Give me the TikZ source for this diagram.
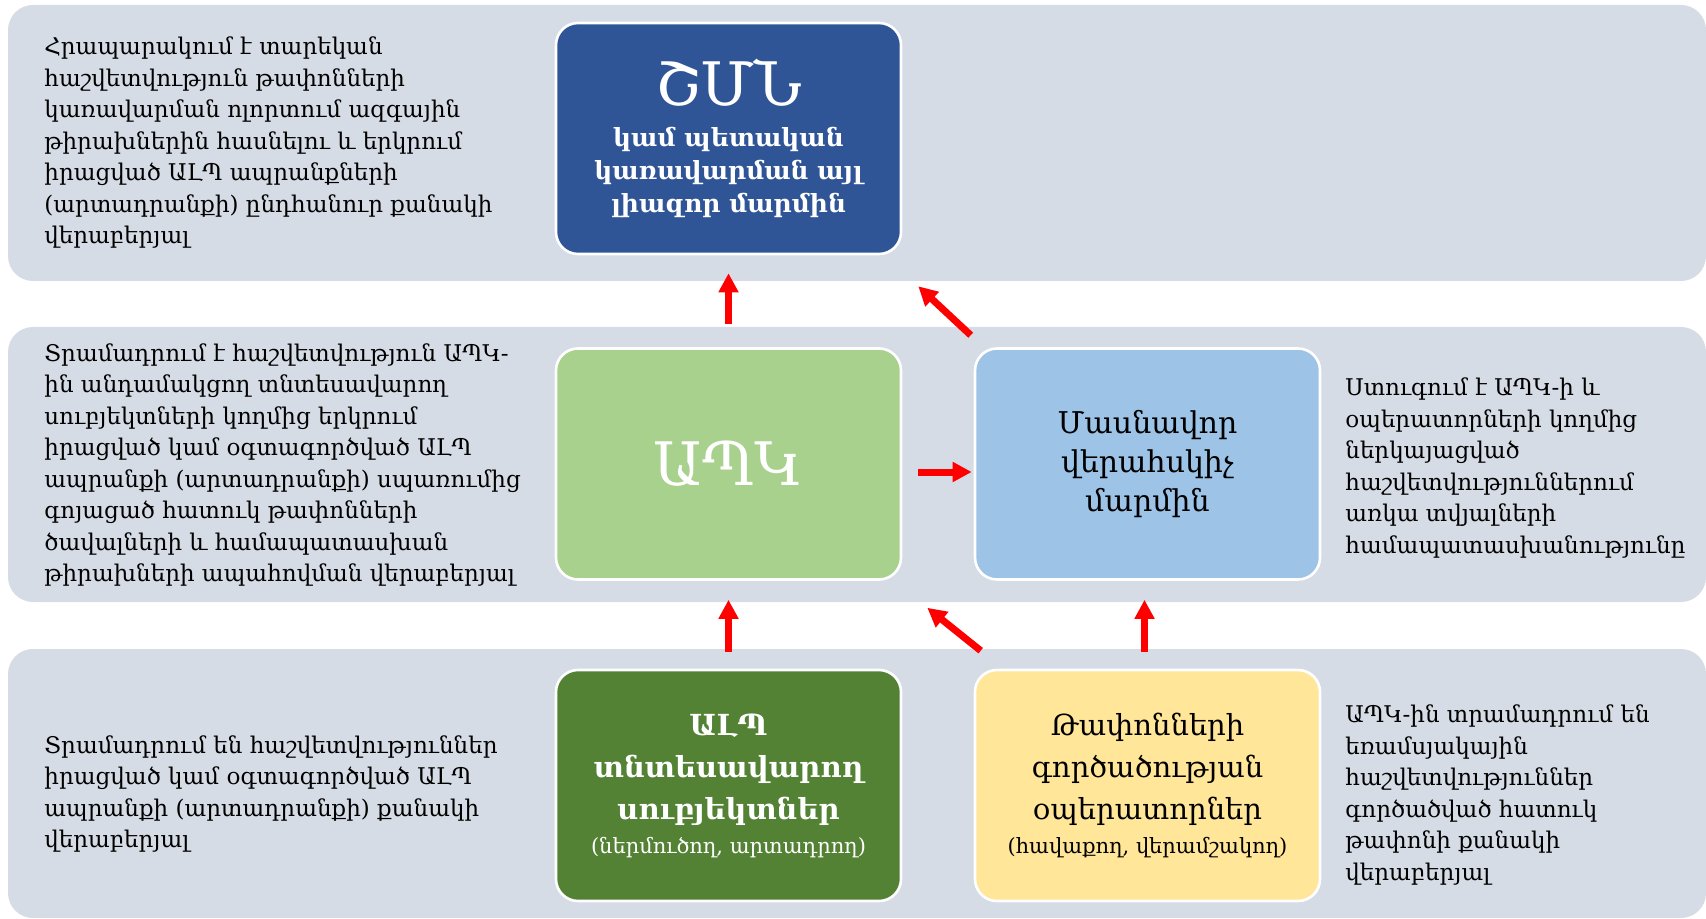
\documentclass[tikz,border=0pt]{standalone}
\usepackage{fontspec}
\setmainfont{DejaVu Serif}
\usetikzlibrary{arrows.meta}
\definecolor{panelgray}{HTML}{D6DCE5}
\definecolor{boxblue}{HTML}{2F5597}
\definecolor{boxlgreen}{HTML}{A9D18E}
\definecolor{boxlblue}{HTML}{9DC3E6}
\definecolor{boxdgreen}{HTML}{548235}
\definecolor{boxyellow}{HTML}{FFE699}
\begin{document}
\begin{tikzpicture}[x=0.5pt,y=-0.5pt,
  panel/.style={fill=panelgray, rounded corners=12.5pt},
  card/.style={draw=white, line width=1.3pt, rounded corners=11pt, minimum width=172.5pt, minimum height=115.5pt, align=center, inner sep=0pt},
  bodytxt/.style={anchor=west, align=left, inner sep=0pt, font=\fontsize{11.5pt}{15.75pt}\selectfont},
  arr/.style={draw=red, line width=3.5pt, -{Triangle[length=9.5pt,width=9.5pt]}}
]
\useasboundingbox (0,0) rectangle (1706,919);
% panels
\fill[panel] (8,5) rectangle (1706,281);
\fill[panel] (8,327) rectangle (1706,602);
\fill[panel] (8,649) rectangle (1706,918);
% cards
\node[card, fill=boxblue, text=white, font=\fontsize{12.5pt}{16.5pt}\selectfont\bfseries] (shmn) at (728.5,138.5)
  {{\fontsize{30pt}{30pt}\selectfont\mdseries ՇՄՆ}\\[4pt]
   կամ պետական\\
   կառավարման այլ\\
   լիազոր մարմին};
\node[card, fill=boxlgreen, text=white, font=\fontsize{30pt}{36pt}\selectfont] (apk) at (728.5,464) {ԱՊԿ};
\node[card, fill=boxlblue, text=black, font=\fontsize{15pt}{19.5pt}\selectfont] (mas) at (1147.5,464)
  {Մասնավոր\\վերահսկիչ\\մարմին};
\node[card, fill=boxdgreen, text=white, font=\fontsize{14.5pt}{21pt}\selectfont\bfseries] (alp) at (728.5,785.5)
  {ԱԼՊ\\
   տնտեսավարող\\
   սուբյեկտներ\\[-4pt]
   {\fontsize{10.5pt}{14pt}\selectfont\mdseries (ներմուծող, արտադրող)}};
\node[card, fill=boxyellow, text=black, font=\fontsize{14.5pt}{21pt}\selectfont] (ops) at (1147.5,785.5)
  {Թափոնների\\
   գործածության\\
   օպերատորներ\\[-4pt]
   {\fontsize{10.5pt}{14pt}\selectfont (հավաքող, վերամշակող)}};
% descriptive texts
\node[bodytxt] (t1) at (44,143) {Հրապարակում է տարեկան\\հաշվետվություն թափոնների\\կառավարման ոլորտում ազգային\\թիրախներին հասնելու և երկրում\\իրացված ԱԼՊ ապրանքների\\(արտադրանքի) ընդհանուր քանակի\\վերաբերյալ};
\node[bodytxt] (t2) at (44,465) {Տրամադրում է հաշվետվություն ԱՊԿ-\\ին անդամակցող տնտեսավարող\\սուբյեկտների կողմից երկրում\\իրացված կամ օգտագործված ԱԼՊ\\ապրանքի (արտադրանքի) սպառումից\\գոյացած հատուկ թափոնների\\ծավալների և համապատասխան\\թիրախների ապահովման վերաբերյալ};
\node[bodytxt] (t3) at (1345,468) {Ստուգում է ԱՊԿ-ի և\\օպերատորների կողմից\\ներկայացված\\հաշվետվություններում\\առկա տվյալների\\համապատասխանությունը};
\node[bodytxt] (t4) at (44,794) {Տրամադրում են հաշվետվություններ\\իրացված կամ օգտագործված ԱԼՊ\\ապրանքի (արտադրանքի) քանակի\\վերաբերյալ};
\node[bodytxt] (t5) at (1345,795) {ԱՊԿ-ին տրամադրում են\\եռամսյակային\\հաշվետվություններ\\գործածված հատուկ\\թափոնի քանակի\\վերաբերյալ};
% arrows
\draw[arr, shorten <=11.5pt, shorten >=9pt] (apk.north) -- (shmn.south);
\draw[arr] ([xshift=-1.5pt,yshift=6pt]mas.north west) -- ([xshift=8pt,yshift=-15.5pt]shmn.south east);
\draw[arr, shorten <=8pt, shorten >=1pt] ([yshift=-4pt]apk.east) -- ([yshift=-4pt]mas.west);
\draw[arr, shorten <=8.5pt, shorten >=9.5pt] (alp.north) -- (apk.south);
\draw[arr, shorten <=8.5pt, shorten >=9.5pt] ([xshift=-1.5pt]ops.north) -- ([xshift=-1.5pt]mas.south);
\draw[arr] ([xshift=3.5pt,yshift=9pt]ops.north west) -- ([xshift=12.5pt,yshift=-13.5pt]apk.south east);
\end{tikzpicture}
\end{document}
